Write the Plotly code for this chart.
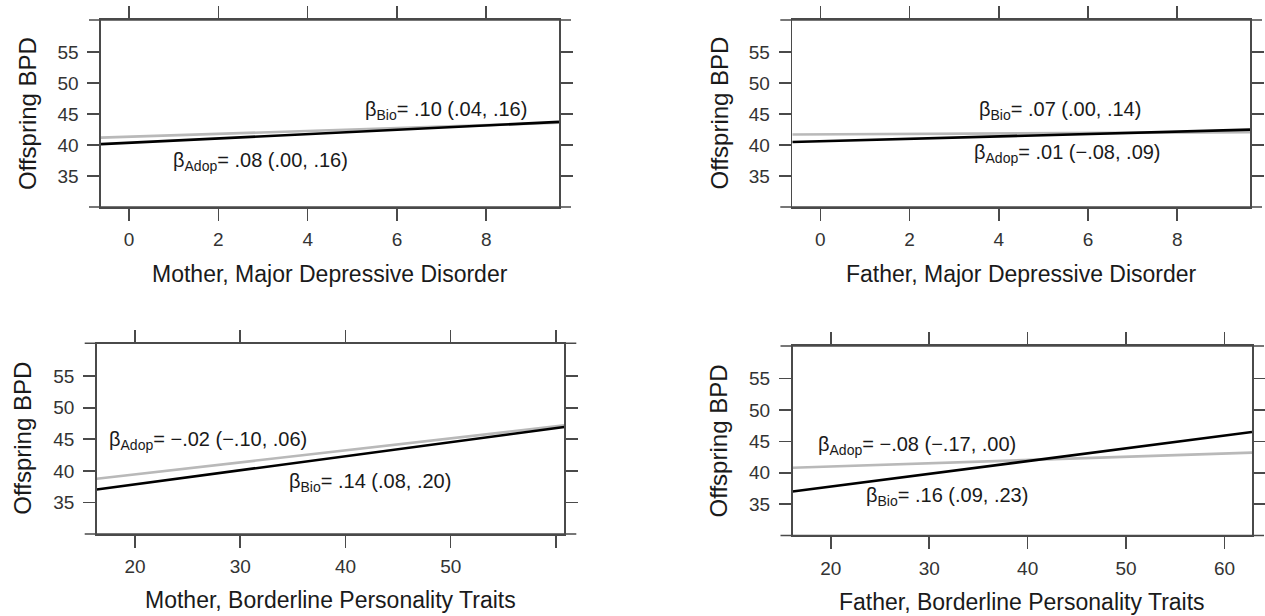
import plotly.graph_objects as go

# ---------------- data ----------------
x_mdd = [-0.63, 9.63]          # x extent of the fitted lines (MDD panels)
x_bpt = [16.35, 60.8]          # mother BPT
x_bpt_f = [16.1, 62.8]         # father BPT

mom_mdd_bio = [40.15, 43.75]
mom_mdd_adop = [41.2, 43.6]
dad_mdd_bio = [40.5, 42.5]
dad_mdd_adop = [41.7, 42.1]
mom_bpt_bio = [37.05, 46.95]
mom_bpt_adop = [38.75, 47.2]
dad_bpt_bio = [37.0, 46.5]
dad_bpt_adop = [40.8, 43.2]

mdd_ticks = [0, 2, 4, 6, 8]
mdd_ticktext = ["0", "2", "4", "6", "8"]
bpt_ticks = [20, 30, 40, 50, 60]
mom_bpt_ticktext = ["20", "30", "40", "50", " "]
dad_bpt_ticktext = ["20", "30", "40", "50", "60"]
y_ticks = [35, 40, 45, 50, 55]
y_ticktext = ["35", "40", "45", "50", "55"]

x_titles = ["Mother, Major Depressive Disorder", "Father, Major Depressive Disorder",
            "Mother, Borderline Personality Traits", "Father, Borderline Personality Traits"]
y_title = "Offspring BPD"

labels = [
    # panel, x, y, text
    (0, 7.1, 45.6, "β<sub>Bio</sub>= .10 (.04, .16)"),
    (0, 2.94, 37.3, "β<sub>Adop</sub>= .08 (.00, .16)"),
    (1, 5.36, 45.6, "β<sub>Bio</sub>= .07 (.00, .14)"),
    (1, 5.53, 38.6, "β<sub>Adop</sub>= .01 (−.08, .09)"),
    (2, 26.96, 44.85, "β<sub>Adop</sub>= −.02 (−.10, .06)"),
    (2, 42.37, 38.2, "β<sub>Bio</sub>= .14 (.08, .20)"),
    (3, 28.8, 44.4, "β<sub>Adop</sub>= −.08 (−.17, .00)"),
    (3, 31.8, 36.2, "β<sub>Bio</sub>= .16 (.09, .23)"),
]

# ---------------- layout constants ----------------
W, H = 1265, 616
# panel boxes in pixels: left, right, top, bottom
boxes = [(101, 559, 20, 207), (792.3, 1250, 20, 207),
         (96.7, 564.3, 343.3, 534), (792.5, 1252, 346, 535.5)]
xranges = [x_mdd, x_mdd, x_bpt, x_bpt_f]
yrange = [30, 60.2]
xtickvals = [mdd_ticks, mdd_ticks, bpt_ticks, bpt_ticks]
xticktexts = [mdd_ticktext, mdd_ticktext, mom_bpt_ticktext, dad_bpt_ticktext]
series = [(mom_mdd_bio, mom_mdd_adop), (dad_mdd_bio, dad_mdd_adop),
          (mom_bpt_bio, mom_bpt_adop), (dad_bpt_bio, dad_bpt_adop)]
ytitle_x = [27.5, 719, 23, 718.7]
xtitle_off = [67, 67, 66, 66]

FONT = "Liberation Sans, Arial, sans-serif"
FRAME = "#4a4a4a"
TICKLEN = 12

fig = go.Figure()
shapes = []
annotations = []

for i in range(4):
    l, r, t, b = boxes[i]
    suffix = "" if i == 0 else str(i + 1)
    xa, ya = "x" + suffix, "y" + suffix
    bio, adop = series[i]
    fig.add_trace(go.Scatter(x=xranges[i], y=adop, mode="lines", xaxis=xa, yaxis=ya,
                             line=dict(color="#b9b9b9", width=2.6), showlegend=False,
                             hoverinfo="skip"))
    fig.add_trace(go.Scatter(x=xranges[i], y=bio, mode="lines", xaxis=xa, yaxis=ya,
                             line=dict(color="#000000", width=2.6), showlegend=False,
                             hoverinfo="skip"))
    axis_common = dict(showline=True, linecolor=FRAME, linewidth=1.6, mirror="ticks",
                       ticks="outside", ticklen=TICKLEN, tickcolor=FRAME, tickwidth=1.6,
                       showgrid=False, zeroline=False,
                       tickfont=dict(family=FONT, size=19, color="#333333"))
    fig.layout["xaxis" + suffix] = dict(
        domain=[l / W, r / W], range=xranges[i], anchor=ya,
        tickmode="array", tickvals=xtickvals[i], ticktext=xticktexts[i],
        ticklabelstandoff=3, **axis_common)
    fig.layout["yaxis" + suffix] = dict(
        domain=[1 - b / H, 1 - t / H], range=yrange, anchor=xa,
        tickmode="array", tickvals=y_ticks, ticktext=y_ticktext,
        ticklabelstandoff=5, **axis_common)
    # horizontal frame lines extend past the box by a tick length
    ext = TICKLEN / (r - l)
    for yy in (0, 1):
        shapes.append(dict(type="line", xref=xa + " domain", yref=ya + " domain",
                           x0=-ext, x1=1 + ext, y0=yy, y1=yy,
                           line=dict(color=FRAME, width=1.6)))
    # axis titles
    annotations.append(dict(xref="paper", yref="paper", x=((l + r) / 2) / W,
                            y=1 - (b + xtitle_off[i]) / H, text=x_titles[i], showarrow=False,
                            xanchor="center", yanchor="middle",
                            font=dict(family=FONT, size=23, color="#1a1a1a")))
    annotations.append(dict(xref="paper", yref="paper", x=ytitle_x[i] / W,
                            y=1 - ((t + b) / 2) / H, text=y_title, showarrow=False,
                            textangle=-90, xanchor="center", yanchor="middle",
                            font=dict(family=FONT, size=24, color="#1a1a1a")))

for p, lx, ly, txt in labels:
    suffix = "" if p == 0 else str(p + 1)
    annotations.append(dict(xref="x" + suffix, yref="y" + suffix, x=lx, y=ly, text=txt,
                            showarrow=False, xanchor="center", yanchor="middle",
                            font=dict(family=FONT, size=20, color="#1a1a1a")))

fig.update_layout(width=W, height=H, margin=dict(l=0, r=0, t=0, b=0),
                  paper_bgcolor="white", plot_bgcolor="white",
                  shapes=shapes, annotations=annotations)

fig.write_html("out.html", config={"displayModeBar": False, "staticPlot": True},
               post_script="document.body.style.margin='0px';document.body.style.overflow='hidden';")
